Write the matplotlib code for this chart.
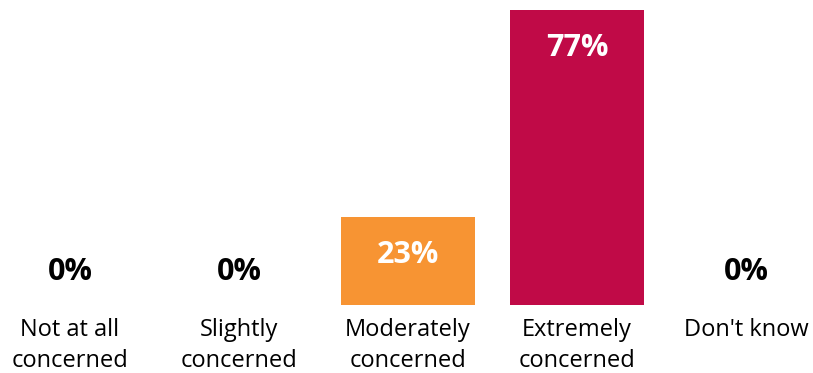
import matplotlib
matplotlib.use("Agg")
import matplotlib.pyplot as plt

categories = ["Not at all\nconcerned", "Slightly\nconcerned", "Moderately\nconcerned",
              "Extremely\nconcerned", "Don't know"]
values = [0, 0, 23, 77, 0]
colors = ["#F79433", "#F79433", "#F79433", "#C00A47", "#F79433"]

plt.rcParams['font.family'] = ['Open Sans', 'DejaVu Sans']

fig = plt.figure(figsize=(8.13, 3.73), dpi=100)
ax = fig.add_axes([0, 68/373, 1, 295/373])
x = list(range(len(categories)))
ax.bar(x, values, width=0.79, color=colors)
ax.set_xlim(-0.414, 4.396)
ax.set_ylim(0, 77)
ax.axis('off')

for xi, v in zip(x, values):
    if v > 0:
        ax.annotate(f"{v}%", (xi, v), xytext=(0, -38), textcoords='offset pixels',
                    ha='center', va='center', color='white', fontsize=22, fontweight='bold')
    else:
        ax.annotate(f"{v}%", (xi, 0), xytext=(0, 33), textcoords='offset pixels',
                    ha='center', va='center', color='black', fontsize=22, fontweight='bold')

for xi, c in zip(x, categories):
    ax.annotate(c, (xi, 0), xytext=(0, -13), textcoords='offset pixels',
                ha='center', va='top', color='black', fontsize=17, linespacing=1.4)

fig.savefig("out.png", dpi=100)
